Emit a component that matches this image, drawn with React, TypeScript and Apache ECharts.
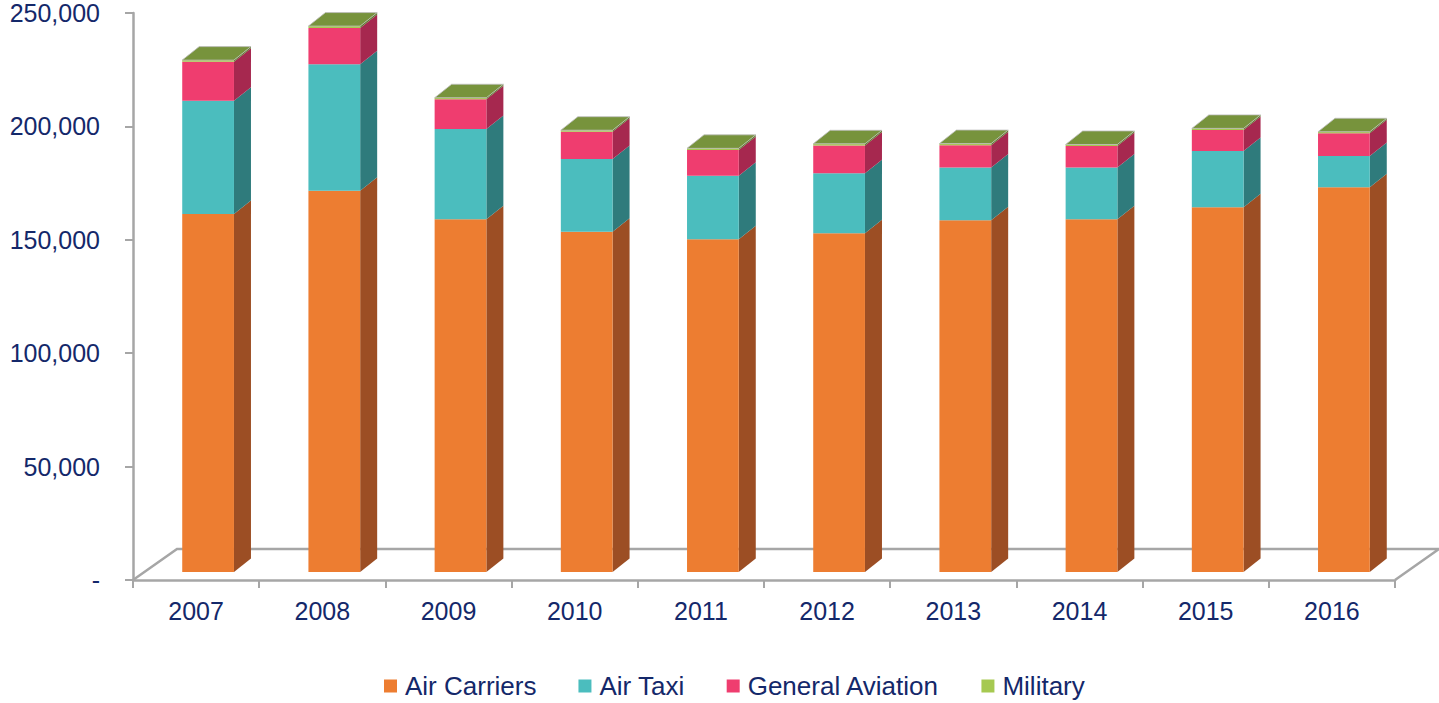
import React, { useEffect, useRef } from 'react';
import * as echarts from 'echarts';

const years = ['2007', '2008', '2009', '2010', '2011', '2012', '2013', '2014', '2015', '2016'];
const airCarriers = [157800, 168100, 155500, 150000, 146700, 149400, 155100, 155500, 160800, 169600];
const airTaxi = [50000, 55800, 39800, 32100, 28000, 26400, 23300, 22900, 24800, 13800];
const generalAviation = [17200, 16000, 13100, 12000, 11400, 12300, 9800, 9400, 9300, 10000];
const military = [700, 800, 700, 700, 700, 700, 700, 700, 700, 700];

const seriesNames = ['Air Carriers', 'Air Taxi', 'General Aviation', 'Military'];
const seriesValues = [airCarriers, airTaxi, generalAviation, military];
const frontColors = ['#ED7D31', '#4BBDBE', '#EF3D6F', '#A6C951'];
const sideColors = ['#9C4E24', '#2F7B7C', '#A6284F', '#5F7B2C'];
const topColor = '#77933C';

const TEXT = '#14286A';
const GRID_LINE = '#A6A6A6';
const FONT = '"Liberation Sans", Arial, sans-serif';

// oblique projection offsets (pixels)
const OFF_X = 12;
const OFF_Y = -8;
const DEPTH_X = 17;
const DEPTH_Y = -13.5;
const FLOOR_DX = 44;
const FLOOR_DY = -31;
const BAR_FRAC = 0.41;

export default function App() {
  const ref = useRef<HTMLDivElement>(null);

  useEffect(() => {
    if (!ref.current) return;
    const chart = echarts.init(ref.current, undefined, { renderer: 'svg' });

    const base = years.map(() => 0);
    const barSeries = seriesValues.map((vals, si) => {
      const data = vals.map((v, j) => {
        const lo = base[j];
        const hi = lo + v;
        base[j] = hi;
        return [j, lo, hi];
      });
      const isTop = si === seriesValues.length - 1;
      return {
        type: 'custom',
        name: seriesNames[si],
        z: 3,
        itemStyle: { color: frontColors[si] },
        encode: { x: 0, y: [1, 2] },
        data,
        renderItem: (params: any, api: any) => {
          const cat = api.value(0);
          const lo = api.value(1);
          const hi = api.value(2);
          const p0 = api.coord([cat, lo]);
          const p1 = api.coord([cat, hi]);
          const bw = api.size([1, 0])[0] * BAR_FRAC;
          const x0 = p0[0] - bw / 2 + OFF_X;
          const x1 = x0 + bw;
          const yb = p0[1] + OFF_Y;
          const yt = p1[1] + OFF_Y;
          const children: any[] = [
            {
              type: 'polygon',
              shape: {
                points: [
                  [x1, yt],
                  [x1 + DEPTH_X, yt + DEPTH_Y],
                  [x1 + DEPTH_X, yb + DEPTH_Y],
                  [x1, yb],
                ],
              },
              style: { fill: sideColors[si] },
            },
            {
              type: 'rect',
              shape: { x: x0, y: yt, width: bw, height: Math.max(yb - yt, 0.5) },
              style: { fill: frontColors[si] },
            },
          ];
          if (isTop) {
            children.push({
              type: 'polygon',
              shape: {
                points: [
                  [x0, yt],
                  [x0 + DEPTH_X, yt + DEPTH_Y],
                  [x1 + DEPTH_X, yt + DEPTH_Y],
                  [x1, yt],
                ],
              },
              style: { fill: topColor, stroke: 'rgba(190,190,190,0.8)', lineWidth: 1 },
            });
          }
          return { type: 'group', children };
        },
      };
    });

    const floorSeries = {
      type: 'custom',
      name: 'floor',
      z: 1,
      silent: true,
      data: [[0, 0]],
      encode: { x: 0, y: 1 },
      renderItem: (params: any) => {
        const cs = params.coordSys;
        const fx0 = cs.x;
        const fx1 = cs.x + cs.width;
        const fy = cs.y + cs.height;
        return {
          type: 'polyline',
          shape: {
            points: [
              [fx0, fy],
              [fx0 + FLOOR_DX, fy + FLOOR_DY],
              [fx1 + FLOOR_DX, fy + FLOOR_DY],
              [fx1, fy],
            ],
          },
          style: { stroke: GRID_LINE, lineWidth: 2.5, fill: 'none' },
        };
      },
    };

    chart.setOption({
      animation: false,
      textStyle: { fontFamily: FONT },
      grid: { left: 133, right: 44, top: 13, bottom: 123, containLabel: false },
      legend: {
        data: seriesNames,
        left: 384,
        top: 673,
        padding: 0,
        icon: 'rect',
        itemWidth: 13,
        itemHeight: 13,
        itemGap: 42,
        textStyle: { color: TEXT, fontSize: 26, fontFamily: FONT, padding: [0, 0, 0, 3] },
      },
      xAxis: {
        type: 'category',
        data: years,
        boundaryGap: true,
        axisLine: { show: true, lineStyle: { color: GRID_LINE, width: 2.5 } },
        axisTick: { show: true, length: 8, lineStyle: { color: GRID_LINE, width: 2 } },
        axisLabel: { color: TEXT, fontSize: 25, fontFamily: FONT, margin: 18 },
        splitLine: { show: false },
      },
      yAxis: {
        type: 'value',
        min: 0,
        max: 250000,
        interval: 50000,
        axisLine: { show: true, lineStyle: { color: GRID_LINE, width: 2.5 } },
        axisTick: { show: true, length: 8, lineStyle: { color: GRID_LINE, width: 2 } },
        axisLabel: {
          color: TEXT,
          fontSize: 25,
          fontFamily: FONT,
          margin: 33,
          formatter: (v: number) => (v === 0 ? '-' : v.toLocaleString('en-US')),
        },
        splitLine: { show: false },
      },
      series: [floorSeries, ...barSeries],
    });

    return () => chart.dispose();
  }, []);

  return (
    <div
      ref={ref}
      style={{ position: 'fixed', left: 0, top: 0, width: 1439, height: 703, background: '#fff' }}
    />
  );
}
